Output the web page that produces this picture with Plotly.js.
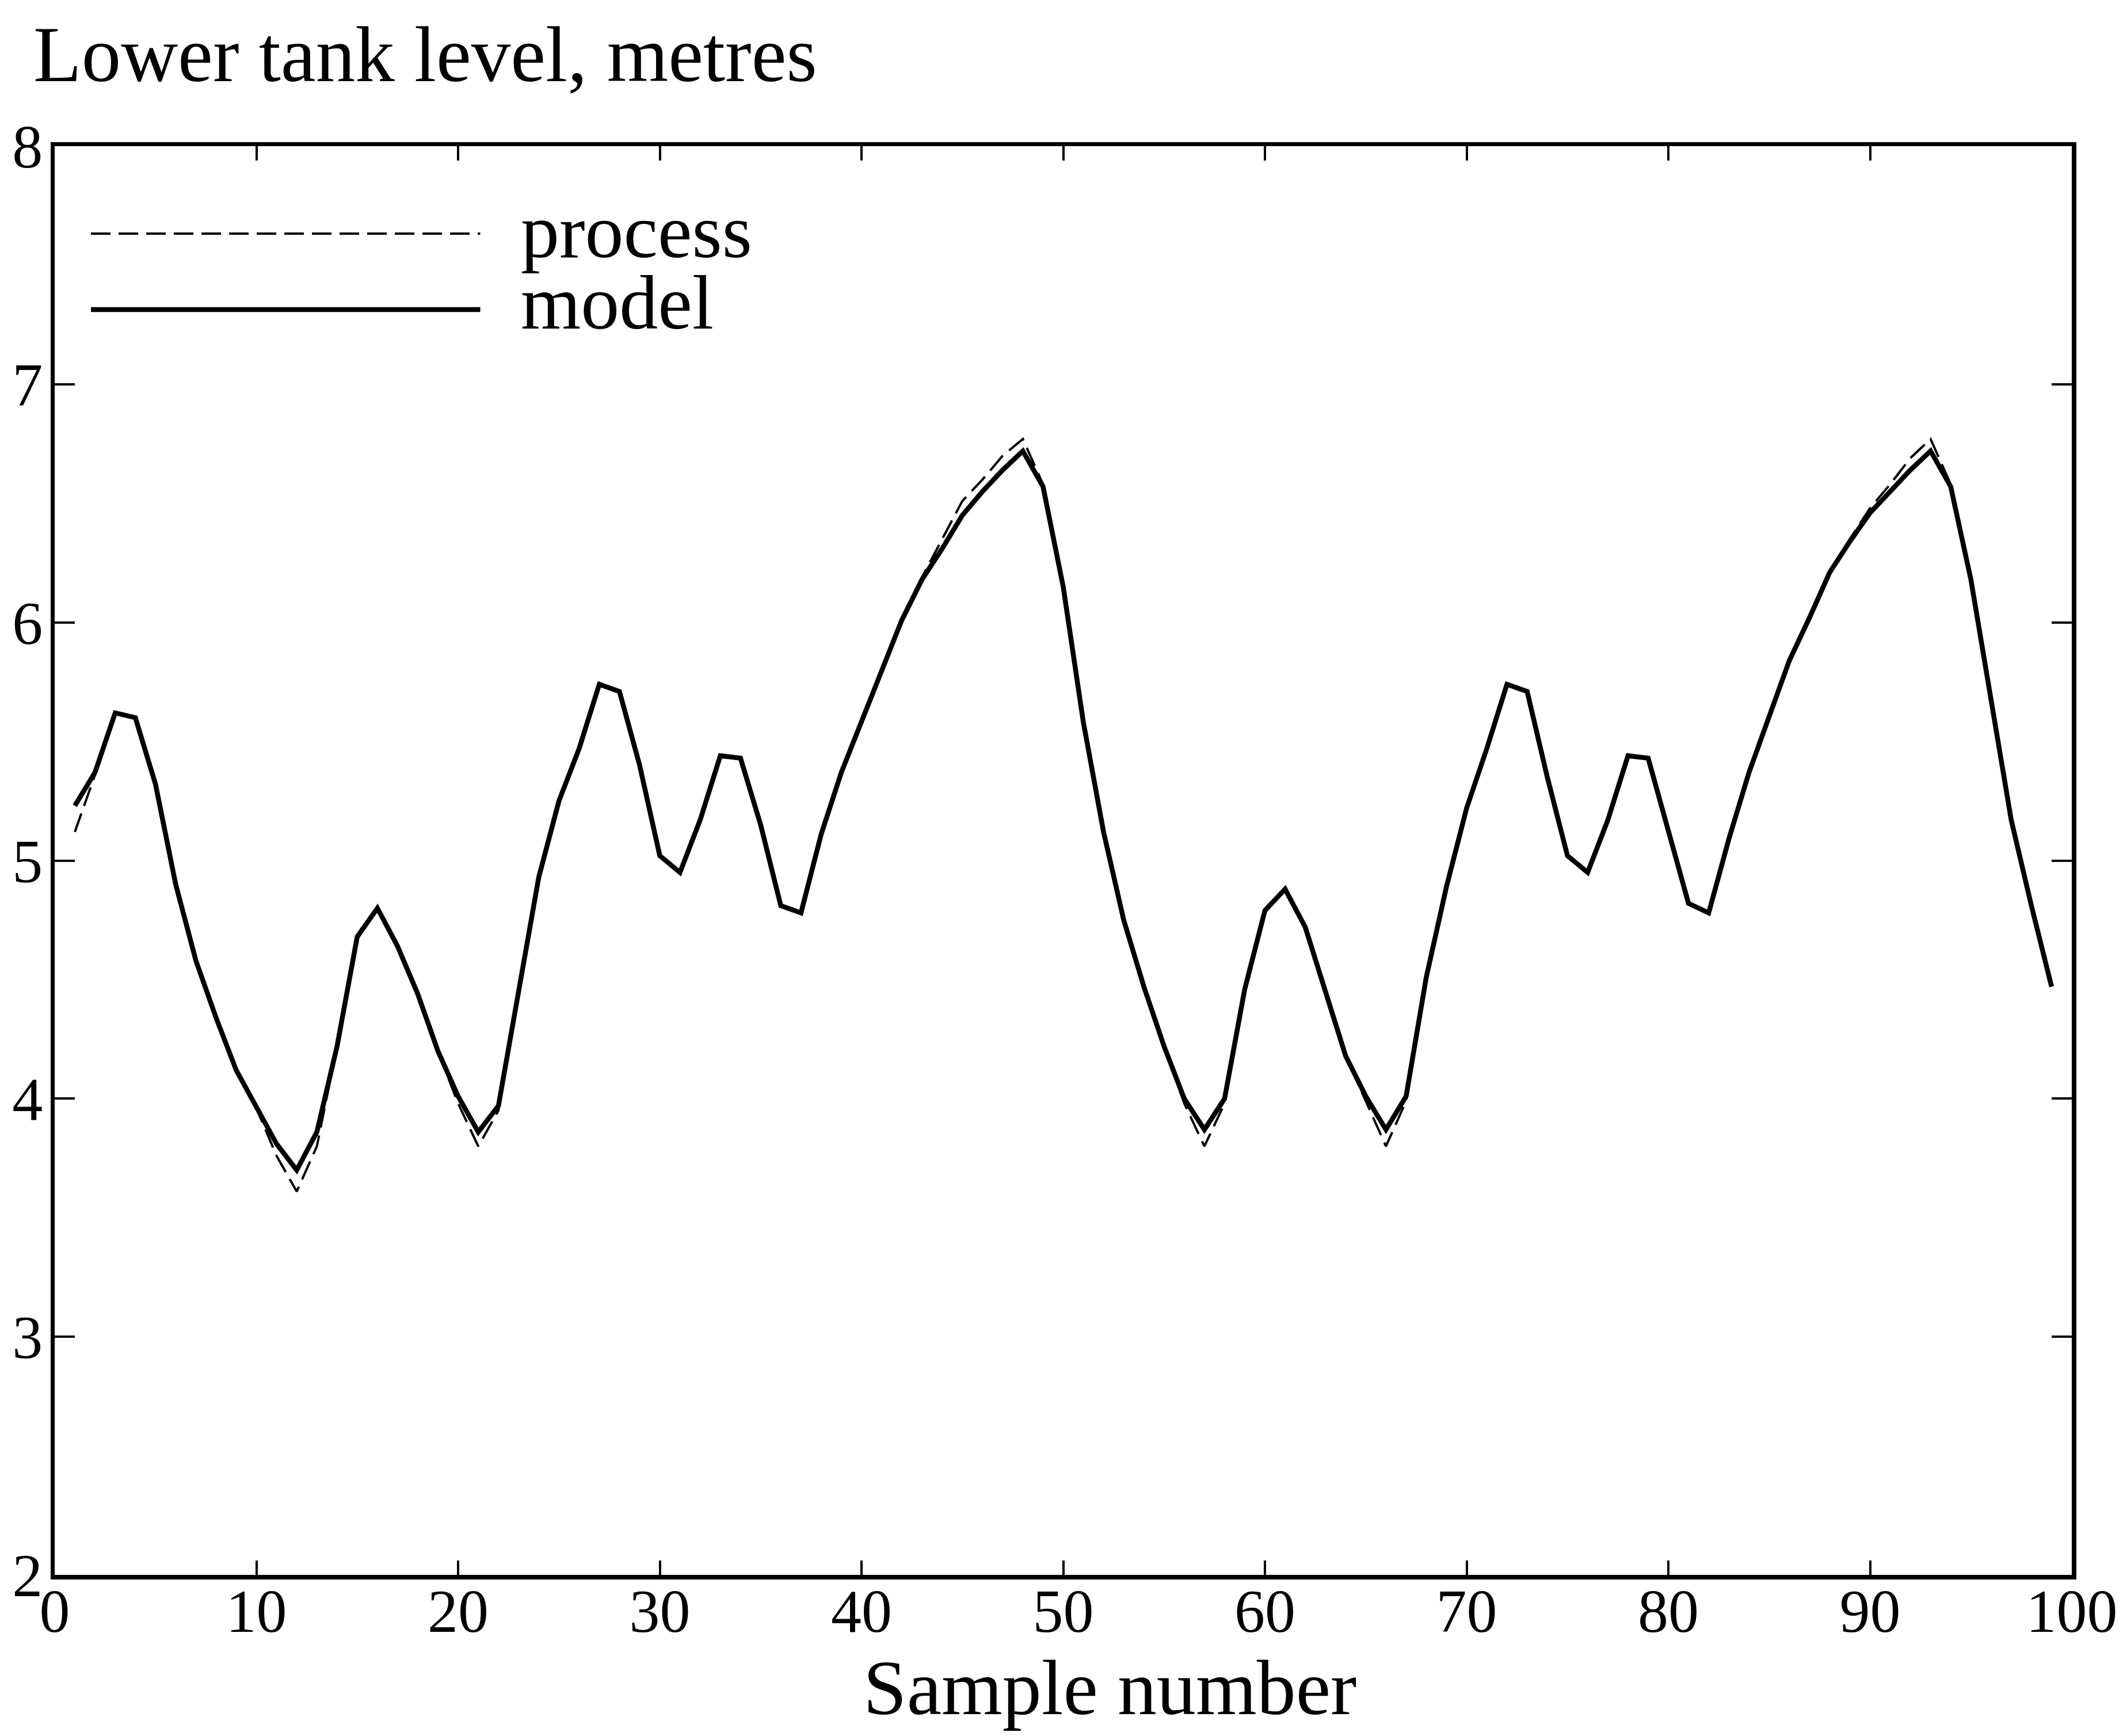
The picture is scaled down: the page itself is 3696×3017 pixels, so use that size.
<!DOCTYPE html>
<html>
<head>
<meta charset="utf-8">
<script src="https://cdn.plot.ly/plotly-3.0.1.min.js"></script>
<style>
  html, body { margin: 0; padding: 0; background: #ffffff; }
  #chart { width: 3696px; height: 3017px; }
</style>
</head>
<body>
<div id="chart"></div>
<script>
// ---- data ----
const sampleNumber = [
  1, 2, 3, 4, 5, 6, 7, 8, 9, 10,
  11, 12, 13, 14, 15, 16, 17, 18, 19, 20,
  21, 22, 23, 24, 25, 26, 27, 28, 29, 30,
  31, 32, 33, 34, 35, 36, 37, 38, 39, 40,
  41, 42, 43, 44, 45, 46, 47, 48, 49, 50,
  51, 52, 53, 54, 55, 56, 57, 58, 59, 60,
  61, 62, 63, 64, 65, 66, 67, 68, 69, 70,
  71, 72, 73, 74, 75, 76, 77, 78, 79, 80,
  81, 82, 83, 84, 85, 86, 87, 88, 89, 90,
  91, 92, 93, 94, 95, 96, 97, 98, 99
];

const modelLevel = [
  5.23, 5.37, 5.62, 5.60, 5.32, 4.90, 4.58, 4.34, 4.12, 3.97,
  3.81, 3.70, 3.86, 4.22, 4.68, 4.80, 4.64, 4.44, 4.20, 4.01,
  3.86, 3.97, 4.45, 4.93, 5.25, 5.47, 5.74, 5.71, 5.40, 5.02,
  4.95, 5.17, 5.44, 5.43, 5.15, 4.81, 4.78, 5.11, 5.37, 5.58,
  5.80, 6.01, 6.18, 6.31, 6.45, 6.55, 6.64, 6.72, 6.57, 6.15,
  5.58, 5.12, 4.75, 4.47, 4.22, 4.00, 3.87, 4.00, 4.46, 4.79,
  4.88, 4.72, 4.45, 4.18, 4.01, 3.87, 4.01, 4.51, 4.89, 5.22,
  5.47, 5.74, 5.71, 5.35, 5.02, 4.95, 5.17, 5.44, 5.43, 5.12,
  4.82, 4.78, 5.09, 5.37, 5.61, 5.84, 6.02, 6.21, 6.34, 6.46,
  6.55, 6.64, 6.72, 6.57, 6.18, 5.68, 5.17, 4.81, 4.47
];

const processLevel = [
  5.12, 5.36, 5.62, 5.60, 5.32, 4.90, 4.58, 4.34, 4.12, 3.96,
  3.76, 3.61, 3.80, 4.22, 4.68, 4.80, 4.64, 4.44, 4.20, 3.98,
  3.80, 3.95, 4.45, 4.93, 5.25, 5.47, 5.74, 5.71, 5.40, 5.02,
  4.95, 5.17, 5.44, 5.43, 5.15, 4.81, 4.78, 5.11, 5.37, 5.58,
  5.80, 6.01, 6.19, 6.35, 6.51, 6.60, 6.70, 6.77, 6.58, 6.15,
  5.58, 5.12, 4.75, 4.47, 4.22, 3.98, 3.80, 3.98, 4.46, 4.79,
  4.88, 4.72, 4.45, 4.18, 3.99, 3.80, 3.99, 4.51, 4.89, 5.22,
  5.47, 5.74, 5.71, 5.35, 5.02, 4.95, 5.17, 5.44, 5.43, 5.12,
  4.82, 4.78, 5.09, 5.37, 5.61, 5.84, 6.02, 6.21, 6.35, 6.48,
  6.58, 6.69, 6.77, 6.58, 6.18, 5.68, 5.17, 4.81, 4.47
];

const xTickValues = [0, 10, 20, 30, 40, 50, 60, 70, 80, 90, 100];
const xTickLabels = ["0", "10", "20", "30", "40", "50", "60", "70", "80", "90", "100"];
const yTickValues = [2, 3, 4, 5, 6, 7, 8];
const yTickLabels = ["2", "3", "4", "5", "6", "7", "8"];

const seriesNames = ["process", "model"];
const chartTitle = "Lower tank level, metres";
const xAxisTitle = "Sample number";

// ---- drawing ----
const FONT = "Liberation Serif, Times New Roman, Times, serif";
const PROCESS_DASH = "34px,14px";
const TICK_SIZE = 106;
const LEGEND_SIZE = 134;

// legend entries stacked in one text block (tight line spacing as in the reference)
const legendText = seriesNames
  .map(n => "<span style='font-size:" + LEGEND_SIZE + "px'>" + n + "</span>")
  .join("<br>");

const traces = [
  {
    x: sampleNumber, y: processLevel, name: seriesNames[0],
    type: "scatter", mode: "lines",
    line: { color: "#000000", width: 4, dash: PROCESS_DASH },
    showlegend: false, hoverinfo: "skip"
  },
  {
    x: sampleNumber, y: modelLevel, name: seriesNames[1],
    type: "scatter", mode: "lines",
    line: { color: "#000000", width: 8.5 },
    showlegend: false, hoverinfo: "skip"
  }
];

const layout = {
  width: 3696, height: 3017,
  paper_bgcolor: "#ffffff", plot_bgcolor: "#ffffff",
  margin: { l: 95, r: 96, t: 254, b: 280, pad: 0 },
  font: { family: FONT, color: "#000000", size: TICK_SIZE },
  showlegend: false,
  xaxis: {
    range: [0, 100], autorange: false,
    tickmode: "array", tickvals: xTickValues, ticktext: xTickLabels,
    ticks: "inside", ticklen: 25, tickwidth: 4, tickcolor: "#000000",
    showline: true, linewidth: 7.5, linecolor: "#000000", mirror: "ticks",
    showgrid: false, zeroline: false, ticklabelstandoff: -36,
    tickfont: { family: FONT, size: TICK_SIZE, color: "#000000" }
  },
  yaxis: {
    range: [2, 8], autorange: false,
    tickmode: "array", tickvals: yTickValues, ticktext: yTickLabels,
    ticks: "inside", ticklen: 35, tickwidth: 4, tickcolor: "#000000",
    showline: true, linewidth: 7.5, linecolor: "#000000", mirror: "ticks",
    showgrid: false, zeroline: false, ticklabelstandoff: -8,
    tickfont: { family: FONT, size: TICK_SIZE, color: "#000000" }
  },
  shapes: [
    { type: "line", xref: "paper", yref: "paper",
      x0: 0.0180, x1: 0.2110, y0: 0.9388, y1: 0.9388,
      line: { color: "#000000", width: 4, dash: PROCESS_DASH } },
    { type: "line", xref: "paper", yref: "paper",
      x0: 0.0180, x1: 0.2110, y0: 0.8856, y1: 0.8856,
      line: { color: "#000000", width: 8.5 } }
  ],
  annotations: [
    { text: legendText, xref: "paper", yref: "paper",
      x: 0.2305, y: 0.9154, xanchor: "left", yanchor: "middle", showarrow: false,
      align: "left",
      font: { family: FONT, size: 95, color: "#000000" } },
    { text: chartTitle, xref: "paper", yref: "paper",
      x: -0.0110, y: 1.0640, xanchor: "left", yanchor: "middle", showarrow: false,
      font: { family: FONT, size: 137, color: "#000000" } },
    { text: xAxisTitle, xref: "paper", yref: "paper",
      x: 0.5230, y: -0.0790, xanchor: "center", yanchor: "middle", showarrow: false,
      font: { family: FONT, size: 136, color: "#000000" } }
  ]
};

Plotly.newPlot("chart", traces, layout, { staticPlot: true, displayModeBar: false });
</script>
</body>
</html>
